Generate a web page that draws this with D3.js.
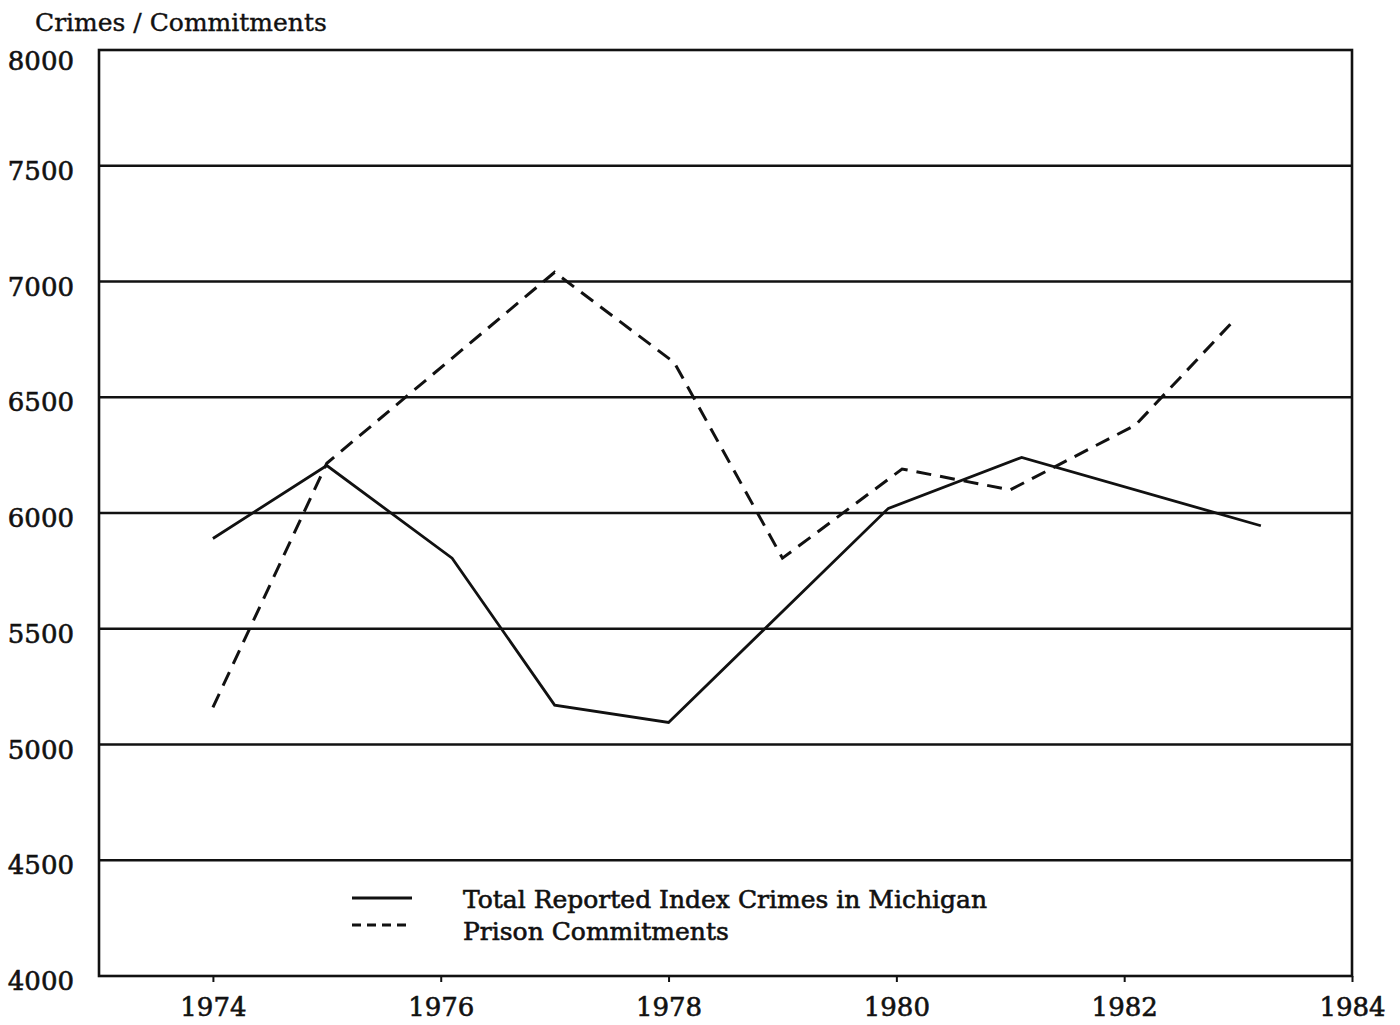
<!DOCTYPE html>
<html>
<head>
<meta charset="utf-8">
<script src="https://cdn.jsdelivr.net/npm/d3@7"></script>
<style>
  body { margin: 0; background: #fff; }
  svg text { font-family: "DejaVu Serif", "Liberation Serif", serif; fill: #111; stroke: #111; stroke-width: 0.6px; }
</style>
</head>
<body>
<svg id="chart" width="1400" height="1025"></svg>
<script>
// data
var crimeYears  = [1974, 1975, 1976.1, 1977, 1978, 1979.93, 1981.1, 1983.2];
var crimeValues = [5890, 6205, 5805, 5170, 5095, 6020, 6240, 5945];

var commitYears  = [1974, 1975, 1977, 1978.05, 1979, 1980.05, 1981, 1982.1, 1982.95];
var commitValues = [5160, 6215, 7040, 6650, 5805, 6190, 6100, 6380, 6825];

var yTicks = [4000, 4500, 5000, 5500, 6000, 6500, 7000, 7500, 8000];
var xTicks = [1974, 1976, 1978, 1980, 1982, 1984];
var legendLabels = ["Total Reported Index Crimes in Michigan", "Prison Commitments"];

var svg = d3.select("#chart");

var x = d3.scaleLinear().domain([1973, 1984]).range([99, 1352]);
var y = d3.scaleLinear().domain([4000, 8000]).range([976, 50]);

// title
svg.append("text")
  .attr("x", 35).attr("y", 31)
  .attr("font-size", 25)
  .style("stroke-width", "0.4px")
  .text("Crimes / Commitments");

// horizontal grid lines
svg.append("g").selectAll("line")
  .data(yTicks.filter(d => d > 4000 && d < 8000))
  .enter().append("line")
  .attr("x1", x(1973)).attr("x2", x(1984))
  .attr("y1", d => y(d)).attr("y2", d => y(d))
  .attr("stroke", "#111")
  .attr("stroke-width", 2.4);

// frame
svg.append("rect")
  .attr("x", x(1973)).attr("y", y(8000))
  .attr("width", x(1984) - x(1973))
  .attr("height", y(4000) - y(8000))
  .attr("fill", "none")
  .attr("stroke", "#111")
  .attr("stroke-width", 2.6);

// y labels
svg.append("g").selectAll("text")
  .data(yTicks).enter().append("text")
  .attr("x", 74)
  .attr("y", d => y(d) + (d == 8000 ? 13 : 7))
  .attr("text-anchor", "end")
  .attr("dominant-baseline", "middle")
  .attr("font-size", 26)
  .text(d => d);

// x axis ticks + labels
var xAxis = d3.axisBottom(x).tickValues(xTicks).tickSize(6).tickFormat(d3.format("d"));
var gx = svg.append("g")
  .attr("transform", "translate(0," + y(4000) + ")")
  .call(xAxis);
gx.select(".domain").remove();
gx.selectAll(".tick line").attr("stroke", "#111").attr("stroke-width", 2);
gx.selectAll(".tick text")
  .attr("y", 22)
  .attr("font-size", 26)
  .attr("font-family", "DejaVu Serif, serif")
  .attr("fill", "#111");

var line = d3.line()
  .x(d => x(d[0]))
  .y(d => y(d[1]));

svg.append("path")
  .datum(d3.zip(crimeYears, crimeValues))
  .attr("d", line)
  .attr("fill", "none")
  .attr("stroke", "#111")
  .attr("stroke-width", 2.8)
  .attr("stroke-linejoin", "miter");

svg.append("path")
  .datum(d3.zip(commitYears, commitValues))
  .attr("d", line)
  .attr("fill", "none")
  .attr("stroke", "#111")
  .attr("stroke-width", 3)
  .attr("stroke-dasharray", "15,9");

// legend
var legend = svg.append("g");
legend.append("line")
  .attr("x1", 352).attr("x2", 412).attr("y1", 898).attr("y2", 898)
  .attr("stroke", "#111").attr("stroke-width", 2.8);
legend.append("line")
  .attr("x1", 352).attr("x2", 412).attr("y1", 925).attr("y2", 925)
  .attr("stroke", "#111").attr("stroke-width", 2.8)
  .attr("stroke-dasharray", "9,6");
legend.selectAll("text")
  .data(legendLabels).enter().append("text")
  .attr("x", 463)
  .attr("y", (d, i) => 908 + i * 32)
  .attr("font-size", 25)
  .text(d => d);
</script>
</body>
</html>
